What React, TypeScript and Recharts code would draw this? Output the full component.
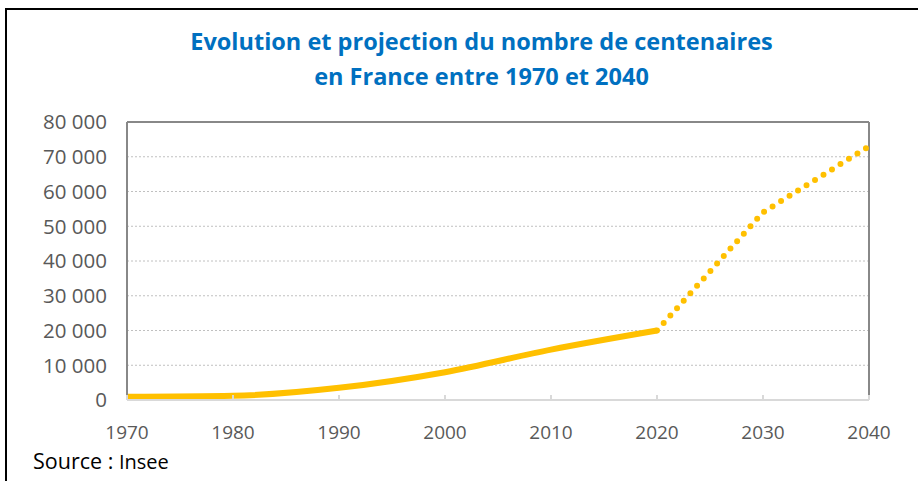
import { CartesianGrid, Line, LineChart, ReferenceLine, XAxis, YAxis } from "recharts";

// centenarians in France
const years = ["1970", "1980", "1990", "2000", "2010", "2020", "2030", "2040"];
const observed = [900, 1200, 3500, 8000, 14500, 20000, null, null];
const projected = [null, null, null, null, null, 20000, 54000, 73000];
const yTicks = [0, 10000, 20000, 30000, 40000, 50000, 60000, 70000, 80000];

const data = years.map((year, i) => ({
  year,
  observed: observed[i],
  projected: projected[i],
}));

const GOLD = "#FFC000";
const FRAME = "#888888";
const FONT = "'Open Sans', sans-serif";

function fmt(v: number) {
  return String(v).replace(/\B(?=(\d{3})+(?!\d))/g, " ");
}

function XTick(props: any) {
  const { x, y, payload } = props;
  return (
    <g>
      <line x1={x} x2={x} y1={y - 5} y2={y} stroke="#d9d9d9" strokeWidth={2} />
      <text x={x} y={y + 39} textAnchor="middle" fill="#595959" fontSize={19} fontFamily={FONT}>
        {payload.value}
      </text>
    </g>
  );
}

export default function App() {
  return (
    <div
      style={{
        position: "absolute",
        left: 0,
        top: 0,
        width: 918,
        height: 481,
        background: "#fff",
        fontFamily: FONT,
        overflow: "hidden",
      }}
    >
      <div
        style={{
          position: "absolute",
          left: 5,
          top: 8,
          right: 0,
          bottom: 0,
          borderTop: "2px solid #000",
          borderLeft: "2px solid #000",
        }}
      />
      <div
        style={{
          position: "absolute",
          left: 0,
          width: 963,
          top: 24,
          textAlign: "center",
          color: "#0070C0",
          fontWeight: 700,
          fontSize: 23.5,
          lineHeight: "35px",
        }}
      >
        <div>Evolution et projection du nombre de centenaires</div>
        <div>en France entre 1970 et 2040</div>
      </div>
      <LineChart
        width={918}
        height={481}
        data={data}
        margin={{ top: 122, right: 49, bottom: 0, left: 0 }}
        style={{ position: "absolute", left: 0, top: 0 }}
      >
        <CartesianGrid vertical={false} stroke="#c0c0c0" strokeDasharray="2 2" />
        <XAxis
          dataKey="year"
          height={81}
          tick={<XTick />}
          tickLine={false}
          tickSize={0}
          tickMargin={0}
          axisLine={{ stroke: "#d9d9d9", strokeWidth: 2 }}
          interval={0}
        />
        <YAxis
          width={127}
          domain={[0, 80000]}
          ticks={yTicks}
          tickFormatter={fmt}
          tickLine={false}
          tickSize={0}
          tickMargin={20}
          axisLine={{ stroke: FRAME, strokeWidth: 2 }}
          tick={{ fill: "#595959", fontSize: 20.5, fontFamily: FONT }}
        />
        <ReferenceLine y={80000} stroke={FRAME} strokeWidth={2} />
        <ReferenceLine x="2040" stroke={FRAME} strokeWidth={2} />
        <Line
          type="monotone"
          dataKey="observed"
          stroke={GOLD}
          strokeWidth={6}
          dot={false}
          connectNulls={false}
          isAnimationActive={false}
        />
        <Line
          type="linear"
          dataKey="projected"
          stroke={GOLD}
          strokeWidth={6}
          strokeDasharray="0 10"
          strokeLinecap="round"
          dot={false}
          isAnimationActive={false}
        />
      </LineChart>
      <div
        style={{
          position: "absolute",
          left: 33,
          top: 447,
          color: "#000",
          fontSize: 21.5,
          lineHeight: "28px",
          whiteSpace: "nowrap",
        }}
      >
        Source : <span style={{ fontSize: 20 }}>Insee</span>
      </div>
    </div>
  );
}
